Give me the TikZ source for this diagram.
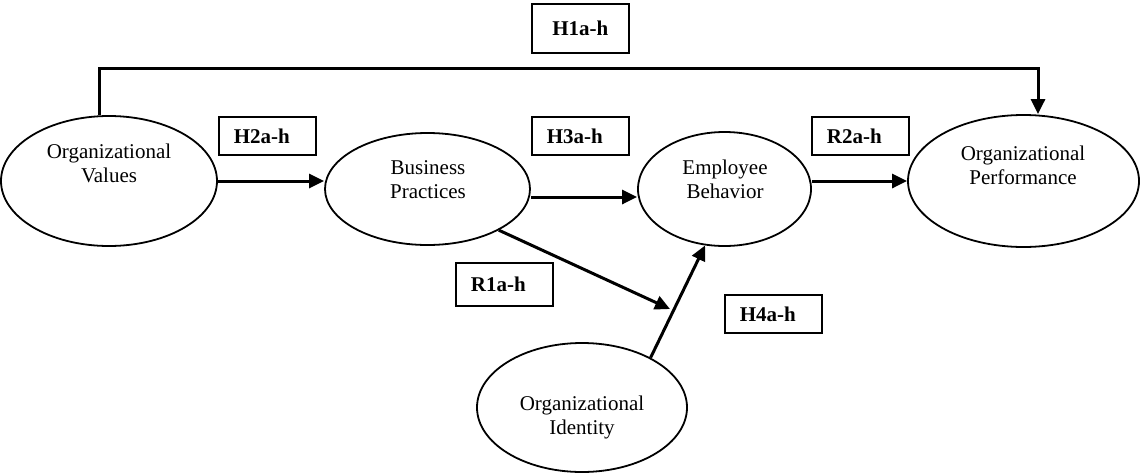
\documentclass[tikz,border=0pt]{standalone}
\usepackage{fontspec}
\setmainfont{Liberation Serif}
\usetikzlibrary{shapes.geometric,arrows.meta}
\begin{document}
\begin{tikzpicture}[x=1pt,y=-1pt,
  ell/.style={draw,ellipse,line width=1.8pt,inner sep=0pt},
  lbl/.style={align=center,font=\fontsize{21}{24}\selectfont,inner sep=0pt},
  hbox/.style={draw,line width=1.8pt,anchor=north west,minimum width=97pt,
    text width=67pt,inner xsep=15pt,inner ysep=0pt,align=left,
    font=\fontsize{21}{24}\selectfont\bfseries},
  arr/.style={line width=3pt,-{Triangle[length=15pt,width=14pt]}},
  ln/.style={line width=3pt}]
\useasboundingbox (0,0) rectangle (1141,472);

% constructs
\node[ell,minimum width=216pt,minimum height=130pt] (ov) at (109,181) {};
\node[lbl] (ovt) at (109,163) {Organizational\\Values};
\node[ell,minimum width=205pt,minimum height=112pt] (bp) at (427.5,189) {};
\node[lbl] (bpt) at (428,179.5) {Business\\Practices};
\node[ell,minimum width=173pt,minimum height=114pt] (eb) at (724.5,189) {};
\node[lbl] (ebt) at (725,179.5) {Employee\\Behavior};
\node[ell,minimum width=231pt,minimum height=132pt] (op) at (1023.5,181) {};
\node[lbl] (opt) at (1023,165) {Organizational\\Performance};
\node[ell,minimum width=210pt,minimum height=129pt] (oi) at (582,407.5) {};
\node[lbl] (oit) at (582,417) {Organizational\\Identity};

% hypothesis labels
\node[hbox,minimum height=49pt,text width=97pt,inner xsep=0pt,align=center] (h1) at (531,3) {H1a-h};
\node[hbox,minimum height=38pt] (h2) at (218,116) {H2a-h};
\node[hbox,minimum height=38pt] (h3) at (531,116) {H3a-h};
\node[hbox,minimum height=38pt] (r2) at (811,116) {R2a-h};
\node[hbox,minimum height=43pt] (r1) at (455,262) {R1a-h};
\node[hbox,minimum height=38pt] (h4) at (724,294) {H4a-h};

% paths
\coordinate (c1) at (99,68);
\coordinate (c2) at (1038,68);
\coordinate (r1end) at (670,309);
\draw[arr] (ov.north -| c1) -- (c1) -- (c2) -- (op.north -| c2);
\draw[arr] (ov.east) -- (ov.east -| bp.west);
\draw[arr] ([yshift=-8pt]bp.east) -- ([yshift=-8pt]eb.west);
\draw[arr] (op.west -| eb.east) -- (op.west);
\draw[arr] (bp.-30) -- (r1end);
\draw[arr] (oi.36) -- (eb.-109);
\end{tikzpicture}
\end{document}
